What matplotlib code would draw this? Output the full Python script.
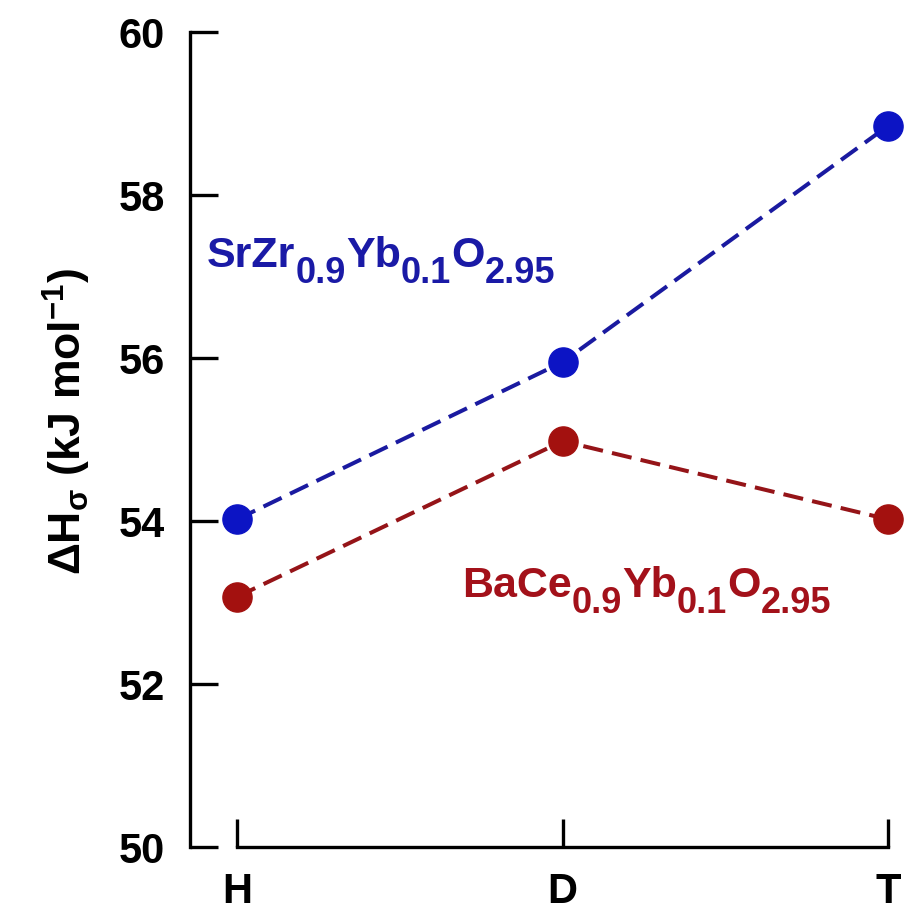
import matplotlib
matplotlib.use('Agg')
import matplotlib.pyplot as plt

plt.rcParams['font.family'] = ['Liberation Sans', 'DejaVu Sans']
plt.rcParams['font.weight'] = 'bold'
plt.rcParams['mathtext.fontset'] = 'custom'
plt.rcParams['mathtext.rm'] = 'Liberation Sans:bold'
plt.rcParams['mathtext.it'] = 'Liberation Sans:bold'
plt.rcParams['mathtext.bf'] = 'Liberation Sans:bold'
plt.rcParams['mathtext.sf'] = 'Liberation Sans:bold'

# data
isotopes = ['H', 'D', 'T']
srzr = [54.02, 55.95, 58.85]
bace = [53.07, 54.98, 54.02]

# formula labels: (text, is_subscript)
srzr_label = [('SrZr', False), ('0.9', True), ('Yb', False), ('0.1', True), ('O', False), ('2.95', True)]
bace_label = [('BaCe', False), ('0.9', True), ('Yb', False), ('0.1', True), ('O', False), ('2.95', True)]

blue = '#0c14c4'
blue_line = '#1a1aa0'
red = '#a3110f'
red_line = '#951418'

fig = plt.figure(figsize=(9.05, 9.2), dpi=100)
ax = fig.add_axes([190/905, 1-848/920, (898-190)/905, (848-33)/920])

xs = range(len(isotopes))
ax.plot(xs, srzr, '--', color=blue_line, lw=2.9, dashes=(5, 2.3))
ax.plot(xs, srzr, 'o', color=blue, ms=21, clip_on=False)
ax.plot(xs, bace, '--', color=red_line, lw=2.9, dashes=(5, 2.3))
ax.plot(xs, bace, 'o', color=red, ms=21, clip_on=False)

ax.set_xlim(-0.1444, 2.03)
ax.set_ylim(50, 60)
ax.set_xticks(list(xs))
ax.set_xticklabels(isotopes)
ax.set_yticks([50, 52, 54, 56, 58, 60])

ax.spines['top'].set_visible(False)
ax.spines['right'].set_visible(False)
ax.spines['left'].set_linewidth(2.4)
ax.spines['bottom'].set_linewidth(2.4)
ax.spines['bottom'].set_bounds(0, 2)
ax.spines['left'].set_capstyle('projecting')
ax.spines['bottom'].set_capstyle('projecting')

ax.tick_params(axis='y', direction='in', length=20, width=2.4, pad=18, labelsize=30)
ax.tick_params(axis='x', direction='in', length=20, width=2.4, pad=17, labelsize=30)
for lbl in ax.get_xticklabels() + ax.get_yticklabels():
    lbl.set_fontweight('bold')

ax.set_ylabel(r'$\Delta$H$_\sigma$ (kJ mol$^{-1}$)', fontsize=32, fontweight='bold')
ax.yaxis.set_label_coords(-0.137, 0.523)

renderer = fig.canvas.get_renderer()


def formula(x, y, parts, color, main=31, sub=26, gap=0):
    off = 0.0
    for s, is_sub in parts:
        t = ax.annotate(s, xy=(x, y), xycoords='data',
                        xytext=(off, -11.5 if is_sub else 0), textcoords='offset points',
                        fontsize=sub if is_sub else main, fontweight='bold',
                        color=color, ha='left', va='baseline')
        w = t.get_window_extent(renderer).width * 72 / fig.dpi
        off += w + gap


formula(-0.092, 57.13, srzr_label, '#1a1aa6')
formula(0.691, 53.08, bace_label, '#a3111a')

fig.savefig('out.png', dpi=100)
